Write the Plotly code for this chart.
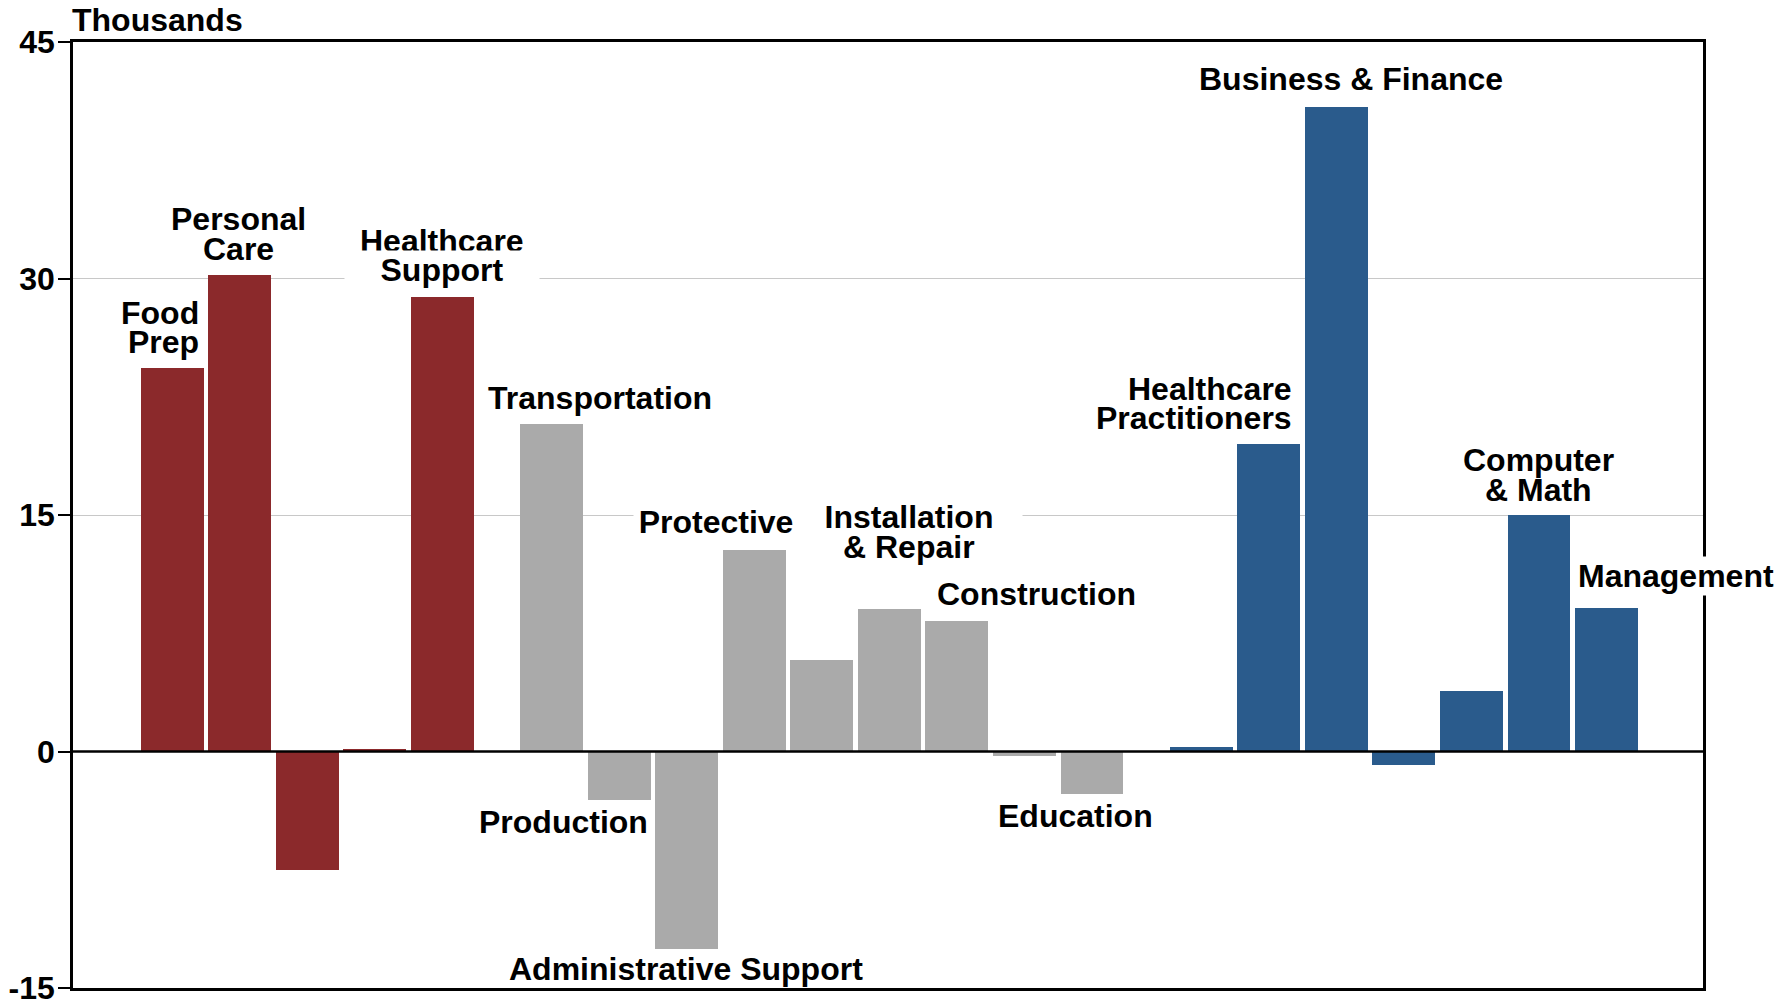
import plotly.graph_objects as go

# ---- data ----
categories = ["Food Prep", "Personal Care", "", "", "Healthcare Support",
              "Transportation", "Production", "Administrative Support", "Protective", "",
              "Installation & Repair", "Construction", "", "Education",
              "", "Healthcare Practitioners", "Business & Finance", "", "", "Computer & Math", "Management"]
values = [24.3, 30.2, -7.5, 0.15, 28.8,
          20.8, -3.1, -12.5, 12.8, 5.8, 9.05, 8.3, -0.3, -2.7,
          0.3, 19.5, 40.9, -0.85, 3.85, 15.0, 9.1]
groups = [0] * 5 + [1] * 9 + [2] * 7
y_ticks = [-15, 0, 15, 30, 45]
y_tick_labels = ["-15", "0", "15", "30", "45"]

# ---- style ----
group_colors = ["#8B292B", "#AAAAAA", "#2A5B8C"]
GROUP_GAP = 0.62
FONT = "Liberation Sans, Arial, sans-serif"
FS = 32
LINE_PX = 29.5

xpos = [i + g * GROUP_GAP for i, g in enumerate(groups)]
colors = [group_colors[g] for g in groups]

fig = go.Figure()
fig.add_trace(go.Bar(
    x=xpos, y=values, width=0.93,
    marker=dict(color=colors, line=dict(width=0)),
    hovertext=categories, showlegend=False,
))

# label layout: (lines, x, y, xanchor, box width, index of line with white background)
labels = [
    (["Food", "Prep"], 0.42, 26.88, "right", None, None),
    (["Personal", "Care"], 0.98, 32.83, "center", None, None),
    (["Healthcare", "Support"], 4.0, 31.45, "center", 192, 1),
    (["Transportation"], 6.33, 22.39, "center", None, None),
    (["Production"], 5.79, -4.49, "center", None, None),
    (["Administrative Support"], 7.61, -13.77, "center", None, None),
    (["Protective"], 8.05, 14.57, "center", 162, 0),
    (["Installation", "& Repair"], 10.91, 13.91, "center", 224, 0),
    (["Construction"], 12.8, 10.0, "center", None, None),
    (["Education"], 13.37, -4.06, "center", None, None),
    (["Healthcare", "Practitioners"], 16.62, 22.07, "right", None, None),
    (["Business & Finance"], 17.46, 42.68, "center", None, None),
    (["Computer", "& Math"], 20.23, 17.54, "center", None, None),
    (["Management"], 22.27, 11.16, "center", None, 0),
]

annotations = []
for lines, lx, ly, xa, bw, bgline in labels:
    n = len(lines)
    for k, line in enumerate(lines):
        shift = ((n - 1) / 2 - k) * LINE_PX
        a = dict(x=lx, y=ly, xref="x", yref="y", text=line, showarrow=False,
                 xanchor=xa, yanchor="middle", yshift=shift, align=xa,
                 borderpad=1,
                 font=dict(family=FONT, size=FS, color="black", weight="bold"))
        if bgline == k:
            a["bgcolor"] = "white"
            if bw:
                a["width"] = bw
        annotations.append(a)

annotations.append(dict(x=0, y=1, xref="paper", yref="paper", text="Thousands",
                        showarrow=False, xanchor="left", yanchor="middle", yshift=22, xshift=-3,
                        font=dict(family=FONT, size=FS, color="black", weight="bold")))

fig.update_layout(
    width=1791, height=1002,
    margin=dict(l=73, r=88, t=42, b=14, autoexpand=False),
    plot_bgcolor="white", paper_bgcolor="white",
    bargap=0,
    xaxis=dict(range=[-1.47, 22.67], showgrid=False, zeroline=False, automargin=False,
               showticklabels=False, ticks="", showline=True, mirror=True,
               linecolor="black", linewidth=2.5),
    yaxis=dict(range=[-15, 45], tickvals=y_ticks, ticktext=y_tick_labels, automargin=False,
               showgrid=True, gridcolor="#C8C8C8",
               gridwidth=1, zeroline=False, ticks="outside", ticklen=12, tickwidth=2,
               tickcolor="black", showline=True, mirror=True, linecolor="black", linewidth=2.5,
               ticklabeloverflow="allow", ticklabelstandoff=-3,
               tickfont=dict(family=FONT, size=FS, color="black", weight="bold")),
    annotations=annotations,
    shapes=[dict(type="line", xref="paper", yref="y", x0=0, x1=1, y0=0, y1=0,
                 line=dict(color="black", width=2.5), layer="above")],
)

# remove the page's default body margin so the figure sits at the window's top-left corner
fig.write_html("out.html", config={"displayModeBar": False},
               post_script="document.body.style.margin='0';")
